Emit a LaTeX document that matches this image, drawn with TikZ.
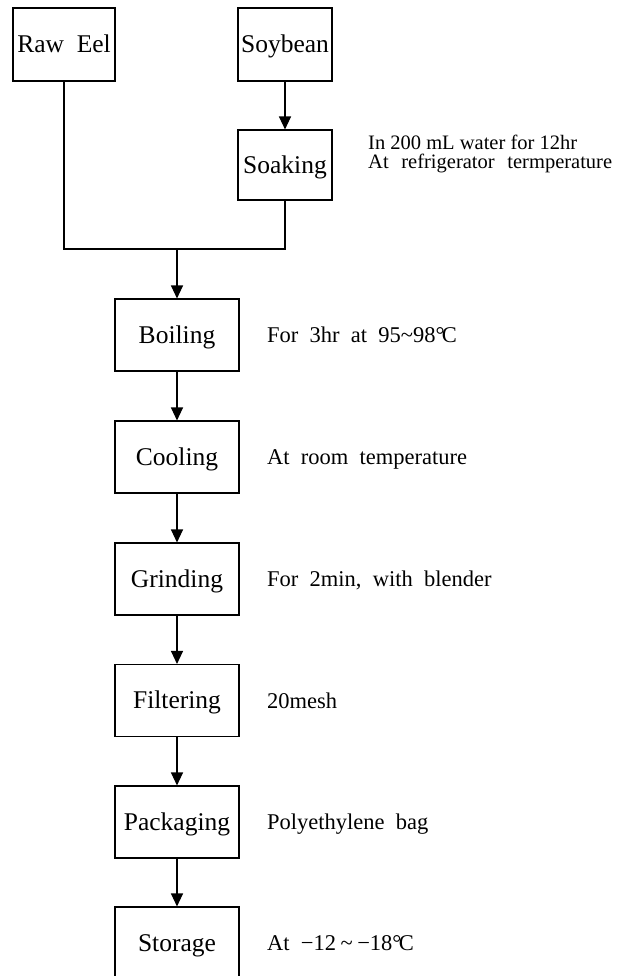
\documentclass[tikz,border=0pt]{standalone}
\usepackage{fontspec}
\setmainfont{Liberation Serif}
\usetikzlibrary{arrows.meta}
\newcommand{\degC}{°\kern-0.12em C}
\newcommand{\ws}{\hspace{0.5em}}
\begin{document}
\begin{tikzpicture}[x=1pt,y=-1pt,
  stepbox/.style={draw, line width=1.1pt, minimum height=72pt, inner sep=0pt, text height=16.5pt, text depth=0pt, font=\fontsize{25.5}{28}\selectfont},
  side/.style={anchor=base west, inner sep=0pt, font=\fontsize{22.5}{24}\selectfont},
  soakside/.style={anchor=base west, inner sep=0pt, font=\fontsize{20.5}{22}\selectfont},
  conn/.style={line width=1.1pt},
  arr/.style={line width=1.2pt, -{Triangle[length=13pt,width=12pt]}}]
\useasboundingbox (0,0) rectangle (639,976);
\node[stepbox, minimum width=102pt, minimum height=73pt] (raw) at (64,44.5) {Raw\ws Eel};
\node[stepbox, minimum width=94pt, minimum height=73pt] (soy) at (285,44.5) {Soybean};
\node[stepbox, minimum width=94pt, minimum height=70pt] (soak) at (285,165) {Soaking};
\node[stepbox, minimum width=124pt] (boil) at (177,335) {Boiling};
\node[stepbox, minimum width=124pt] (cool) at (177,457) {Cooling};
\node[stepbox, minimum width=124pt] (grind) at (177,579) {Grinding};
\node[stepbox, minimum width=124pt] (filt) at (177,700.5) {Filtering};
\node[stepbox, minimum width=124pt] (pack) at (177,822) {Packaging};
\node[stepbox, minimum width=124pt] (stor) at (177,943) {Storage};
\coordinate (join) at (177,249);
\draw[arr] (soy) -- (soak);
\draw[conn] (raw.south) -- (raw.south |- join) -- (soak.south |- join) -- (soak.south);
\draw[arr] (join) -- (boil);
\draw[arr] (boil) -- (cool);
\draw[arr] (cool) -- (grind);
\draw[arr] (grind) -- (filt);
\draw[arr] (filt) -- (pack);
\draw[arr] (pack) -- (stor);
\node[soakside] (tsoak1) at (368,150) {In 200 mL water for 12hr};
\node[soakside] (tsoak2) at (368,168.5) {At\hspace{0.62em}refrigerator\hspace{0.62em}termperature};
\node[side] (tboil) at (267,342.5) {For\ws 3hr\ws at\ws 95\textasciitilde98\degC};
\node[side] (tcool) at (267,464.5) {At\ws room\ws temperature};
\node[side] (tgrind) at (267,586.5) {For\ws 2min,\ws with\ws blender};
\node[side] (tfilt) at (267,708) {20mesh};
\node[side] (tpack) at (267,829.5) {Polyethylene\ws bag};
\node[side] (tstor) at (267,950.5) {At\ws −12\hspace{0.2em}\textasciitilde\hspace{0.2em}−18\degC};
\end{tikzpicture}
\end{document}
